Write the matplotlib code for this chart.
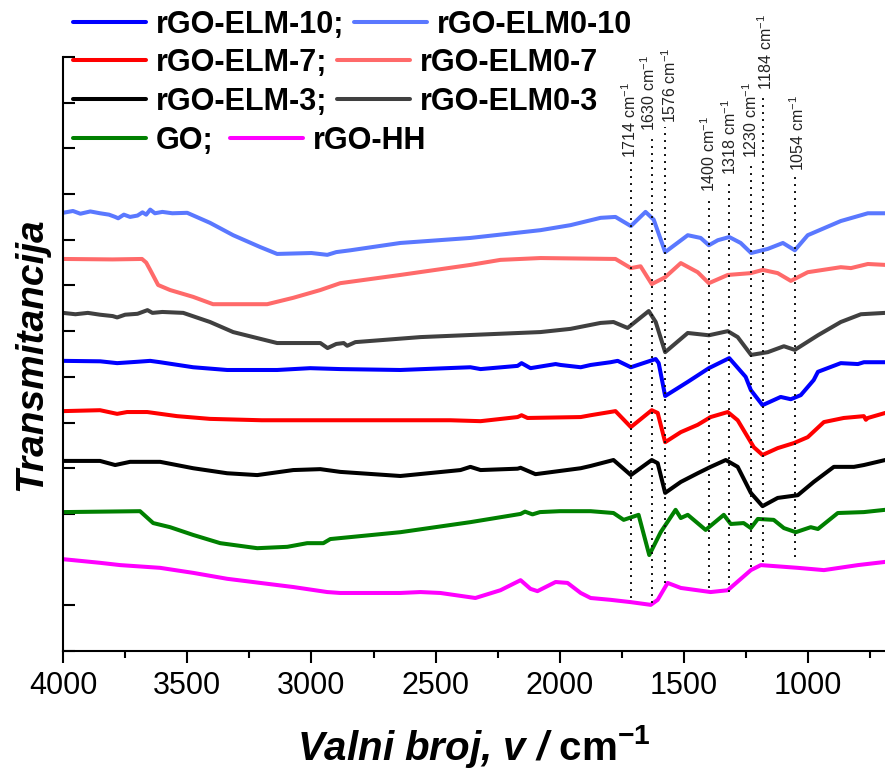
import numpy as np
import matplotlib
matplotlib.use('Agg')
import matplotlib.pyplot as plt
import matplotlib.transforms as mtransforms
from matplotlib.ticker import MultipleLocator

plt.rcParams['font.family'] = ['Liberation Sans', 'DejaVu Sans']
plt.rcParams['mathtext.fontset'] = 'custom'
plt.rcParams['mathtext.rm'] = 'Liberation Sans'
plt.rcParams['mathtext.it'] = 'Liberation Sans:italic'
plt.rcParams['mathtext.bf'] = 'Liberation Sans:bold'

# ---- data: (wavenumber cm-1, offset transmittance a.u.) ----
ELM0_10 = [(4000, 9.59), (3960, 9.63), (3930, 9.57), (3890, 9.62), (3851, 9.58), (3815, 9.55),
           (3790, 9.50), (3778, 9.47), (3755, 9.55), (3730, 9.50), (3700, 9.53), (3680, 9.60),
           (3665, 9.55), (3649, 9.66), (3630, 9.58), (3600, 9.61), (3560, 9.58), (3500, 9.59),
           (3408, 9.37), (3315, 9.10), (3206, 8.84), (3138, 8.69), (3000, 8.71), (2936, 8.67),
           (2900, 8.73), (2843, 8.77), (2642, 8.93), (2360, 9.04), (2078, 9.21), (1957, 9.32),
           (1836, 9.48), (1776, 9.50), (1714, 9.30), (1655, 9.61), (1622, 9.44), (1576, 8.73),
           (1485, 9.10), (1433, 9.04), (1400, 8.88), (1364, 8.99), (1318, 9.06), (1272, 8.93),
           (1230, 8.71), (1163, 8.80), (1102, 8.93), (1054, 8.77), (1002, 9.10), (869, 9.41),
           (760, 9.58), (690, 9.58)]
ELM0_7 = [(4000, 8.58), (3800, 8.57), (3682, 8.58), (3665, 8.50), (3649, 8.34), (3617, 8.01),
          (3569, 7.90), (3476, 7.75), (3396, 7.59), (3178, 7.59), (3073, 7.73), (2964, 7.90),
          (2884, 8.05), (2642, 8.23), (2360, 8.45), (2239, 8.56), (2078, 8.60), (1776, 8.58),
          (1714, 8.38), (1675, 8.42), (1630, 8.03), (1576, 8.18), (1513, 8.49), (1445, 8.29),
          (1400, 8.05), (1324, 8.23), (1231, 8.27), (1183, 8.34), (1123, 8.27), (1070, 8.10),
          (1002, 8.29), (869, 8.40), (828, 8.38), (760, 8.47), (690, 8.45)]
ELM0_3 = [(4000, 7.40), (3950, 7.37), (3900, 7.40), (3851, 7.36), (3800, 7.33), (3782, 7.30),
          (3750, 7.36), (3700, 7.38), (3660, 7.46), (3640, 7.40), (3600, 7.42), (3516, 7.40),
          (3408, 7.20), (3315, 6.98), (3234, 6.87), (3138, 6.74), (2964, 6.74), (2935, 6.63),
          (2900, 6.72), (2870, 6.74), (2856, 6.68), (2823, 6.76), (2561, 6.87), (2078, 6.98),
          (1957, 7.05), (1836, 7.18), (1784, 7.20), (1727, 7.07), (1642, 7.44), (1614, 7.20),
          (1576, 6.54), (1485, 6.96), (1400, 6.91), (1324, 7.00), (1284, 6.87), (1230, 6.48),
          (1163, 6.54), (1098, 6.67), (1054, 6.59), (961, 6.91), (869, 7.20), (788, 7.37),
          (690, 7.40)]
ELM_10 = [(4000, 6.35), (3850, 6.34), (3782, 6.30), (3700, 6.33), (3649, 6.35), (3609, 6.32),
          (3476, 6.21), (3339, 6.15), (3138, 6.15), (3005, 6.19), (2884, 6.17), (2642, 6.15),
          (2360, 6.21), (2319, 6.17), (2170, 6.24), (2154, 6.30), (2118, 6.19), (2017, 6.28),
          (1997, 6.26), (1916, 6.21), (1876, 6.26), (1796, 6.32), (1767, 6.35), (1714, 6.21),
          (1614, 6.39), (1602, 6.30), (1576, 5.58), (1526, 5.75), (1485, 5.89), (1400, 6.19),
          (1318, 6.41), (1252, 6.00), (1231, 5.71), (1184, 5.38), (1111, 5.56), (1070, 5.51),
          (1030, 5.60), (978, 5.93), (961, 6.11), (869, 6.30), (800, 6.28), (776, 6.32), (690, 6.32)]
ELM_7 = [(4000, 5.25), (3851, 5.27), (3782, 5.19), (3742, 5.23), (3661, 5.23), (3541, 5.14),
         (3408, 5.08), (3200, 5.05), (2440, 5.05), (2319, 5.03), (2170, 5.12), (2154, 5.16),
         (2130, 5.10), (1916, 5.12), (1876, 5.16), (1776, 5.25), (1714, 4.90), (1630, 5.27),
         (1606, 5.21), (1576, 4.57), (1513, 4.79), (1445, 4.95), (1393, 5.12), (1324, 5.23),
         (1284, 5.05), (1219, 4.46), (1184, 4.29), (1123, 4.44), (1058, 4.55), (1002, 4.68),
         (937, 5.01), (857, 5.10), (776, 5.14), (768, 5.06), (760, 5.10), (690, 5.21)]
ELM_3 = [(4000, 4.16), (3851, 4.16), (3790, 4.07), (3730, 4.14), (3609, 4.14), (3476, 4.00),
         (3339, 3.89), (3218, 3.85), (3073, 3.96), (2964, 3.98), (2884, 3.92), (2642, 3.83),
         (2400, 3.96), (2360, 4.03), (2319, 3.96), (2170, 3.99), (2158, 4.01), (2098, 3.87),
         (1916, 4.00), (1876, 4.05), (1784, 4.18), (1714, 3.85), (1630, 4.18), (1606, 4.11),
         (1576, 3.46), (1513, 3.70), (1445, 3.89), (1393, 4.03), (1332, 4.18), (1284, 4.03),
         (1231, 3.46), (1184, 3.17), (1123, 3.35), (1042, 3.41), (978, 3.70), (897, 4.03),
         (816, 4.03), (776, 4.07), (690, 4.18)]
GO = [(4000, 3.04), (3690, 3.06), (3637, 2.80), (3569, 2.71), (3476, 2.54), (3367, 2.36),
      (3218, 2.25), (3097, 2.28), (3017, 2.36), (2952, 2.36), (2924, 2.45), (2642, 2.60),
      (2360, 2.82), (2158, 3.00), (2140, 3.05), (2110, 2.99), (2080, 3.04), (2000, 3.06),
      (1876, 3.06), (1784, 3.02), (1743, 2.87), (1683, 2.98), (1640, 2.10), (1594, 2.60),
      (1534, 3.09), (1513, 2.91), (1485, 2.98), (1413, 2.65), (1340, 2.98), (1312, 2.78),
      (1260, 2.80), (1231, 2.69), (1203, 2.89), (1139, 2.87), (1098, 2.69), (1050, 2.60),
      (990, 2.71), (961, 2.67), (881, 3.02), (776, 3.04), (690, 3.09)]
RGO_HH = [(4000, 2.01), (3851, 1.93), (3770, 1.88), (3609, 1.82), (3476, 1.71), (3339, 1.58),
          (3073, 1.40), (2936, 1.29), (2884, 1.27), (2642, 1.27), (2561, 1.29), (2481, 1.27),
          (2340, 1.16), (2239, 1.33), (2158, 1.55), (2118, 1.36), (2090, 1.31), (2017, 1.51),
          (1969, 1.49), (1916, 1.27), (1876, 1.16), (1796, 1.12), (1715, 1.07), (1634, 1.01),
          (1606, 1.12), (1566, 1.49), (1513, 1.38), (1393, 1.29), (1324, 1.33), (1231, 1.77),
          (1191, 1.88), (1042, 1.82), (937, 1.77), (800, 1.88), (690, 1.95)]

series_names = ['rGO-ELM0-10', 'rGO-ELM0-7', 'rGO-ELM0-3', 'rGO-ELM-10',
                'rGO-ELM-7', 'rGO-ELM-3', 'GO', 'rGO-HH']
series_data = [ELM0_10, ELM0_7, ELM0_3, ELM_10, ELM_7, ELM_3, GO, RGO_HH]
series_colors = ['#5a78ff', '#ff6a6a', '#404040', '#0000ff',
                 '#ff0000', '#000000', '#008000', '#ff00ff']

peak_wn = [1714, 1630, 1576, 1400, 1318, 1230, 1184, 1054]
peak_line_top = [10.70, 11.29, 11.47, 9.96, 10.33, 10.72, 12.19, 10.42]
peak_line_bottom = [1.16, 1.05, 1.49, 1.38, 1.29, 1.84, 1.95, 2.06]
peak_label_shift_px = [-1, -3, 4, 0, 0, 0, 3, 3]

legend_rows = [('rGO-ELM-10', 'rGO-ELM0-10', 'rGO-ELM-10;', 'rGO-ELM0-10'),
               ('rGO-ELM-7', 'rGO-ELM0-7', 'rGO-ELM-7;', 'rGO-ELM0-7'),
               ('rGO-ELM-3', 'rGO-ELM0-3', 'rGO-ELM-3;', 'rGO-ELM0-3'),
               ('GO', 'rGO-HH', 'GO;', 'rGO-HH')]

# ---- figure ----
W, H = 885, 773
fig = plt.figure(figsize=(W / 100, H / 100), dpi=100)
ax = fig.add_axes([63 / W, 122 / H, 822 / W, 594 / H])

handles = {}
for name, data, color in zip(series_names, series_data, series_colors):
    arr = np.array(data, dtype=float)
    ln, = ax.plot(arr[:, 0], arr[:, 1], color=color, lw=2.9,
                  solid_joinstyle='round', solid_capstyle='round', label=name)
    handles[name] = ln

ax.vlines(peak_wn, peak_line_bottom, peak_line_top, colors='#111111',
          linestyles=(0, (1, 2.6)), lw=1.4)
for wn, top, dx in zip(peak_wn, peak_line_top, peak_label_shift_px):
    tr = mtransforms.offset_copy(ax.transData, fig=fig, x=dx, y=0, units='dots')
    ax.text(wn, top + 0.08, f"{wn} cm$^{{-1}}$", rotation=90, ha='center',
            va='bottom', fontsize=11.5, color='#222222', transform=tr)

ax.set_xlim(4000, 691)
ax.set_ylim(0, 13)
ax.xaxis.set_major_locator(MultipleLocator(500))
ax.xaxis.set_minor_locator(MultipleLocator(250))
ax.yaxis.set_major_locator(MultipleLocator(1))
ax.tick_params(axis='x', which='major', direction='out', length=8.6, width=1.5,
               labelsize=22, pad=6)
ax.tick_params(axis='x', which='minor', direction='out', length=4.7, width=1.5)
ax.tick_params(axis='y', which='major', direction='in', length=8.6, width=1.5,
               labelleft=False)
for s in ['top', 'right']:
    ax.spines[s].set_visible(False)
for s in ['left', 'bottom']:
    ax.spines[s].set_linewidth(1.5)

ax.set_xlabel("Valni broj, v / $\\mathbf{cm}^{\\mathbf{-1}}$", fontsize=29,
              fontweight='bold', style='italic', labelpad=16)
ax.set_ylabel("Transmitancija", fontsize=28, fontweight='bold', style='italic',
              labelpad=10)

row_y = [25, 63, 102, 141]
for (n1, n2, l1, l2), y in zip(legend_rows, row_y):
    cs = 0.55 if l1 == 'GO;' else 0.33
    fig.legend(handles=[handles[n1], handles[n2]], labels=[l1, l2], ncol=2,
               loc='center left', bbox_to_anchor=(73 / W, 1 - y / H),
               bbox_transform=fig.transFigure, frameon=False, borderpad=0,
               borderaxespad=0, handlelength=2.4, handletextpad=0.3,
               columnspacing=cs, prop={'weight': 'bold', 'size': 22})

fig.savefig('out.png', dpi=100)
